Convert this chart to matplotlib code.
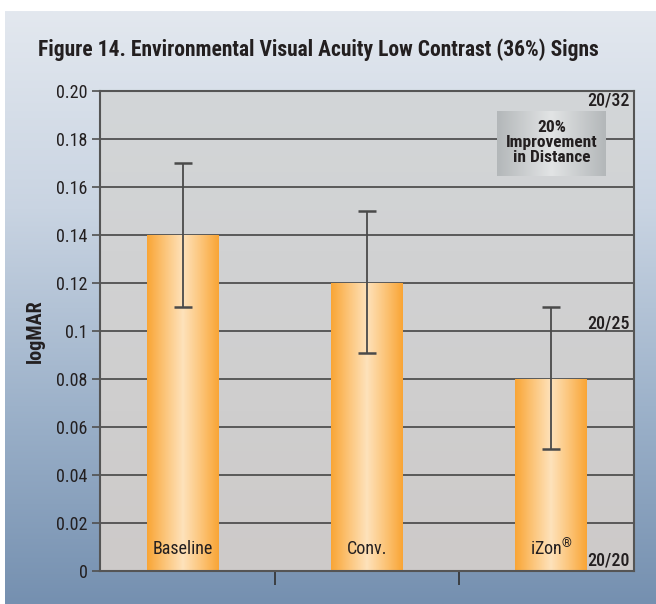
import numpy as np
import matplotlib
matplotlib.use("Agg")
import matplotlib.pyplot as plt
from matplotlib.colors import LinearSegmentedColormap

plt.rcParams['font.family'] = ['Roboto Condensed', 'DejaVu Sans']
plt.rcParams['mathtext.fontset'] = 'custom'
plt.rcParams['mathtext.rm'] = 'Roboto Condensed'

# ---- data ----
categories = ["Baseline", "Conv.", "iZon\u00ae"]
values = [0.14, 0.12, 0.08]
err_low = [0.11, 0.091, 0.051]
err_high = [0.17, 0.15, 0.11]
ytick_vals = [0, 0.02, 0.04, 0.06, 0.08, 0.10, 0.12, 0.14, 0.16, 0.18, 0.20]
ytick_labels = ["0", "0.02", "0.04", "0.06", "0.08", "0.1", "0.12", "0.14", "0.16", "0.18", "0.20"]
acuity_labels = ["20/32", "20/25", "20/20"]
acuity_vals = [0.196, 0.1033, 0.0045]
title = "Figure 14. Environmental Visual Acuity Low Contrast (36%) Signs"
box_text = "20%\nImprovement\nin Distance"

W, H = 656, 604
fig = plt.figure(figsize=(W / 100, H / 100), dpi=100)
fig.patch.set_facecolor("white")

# figure background gradient
bg = fig.add_axes([0, 0, 1, 1], zorder=-10)
bg.set_axis_off()
bg.set_xlim(0, 1)
bg.set_ylim(0, 1)
bgcmap = LinearSegmentedColormap.from_list("bg", ["#7590b0", "#9db2ca", "#c9d4e2", "#e3e8ef"])
grad = np.linspace(0, 1, 256).reshape(-1, 1)
bg.imshow(grad, cmap=bgcmap, origin="lower", aspect="auto",
          extent=[5 / W, 1, 0, 1 - 11 / H])

# main axes
ax = fig.add_axes([100 / W, 1 - 571 / H, 534 / W, 480 / H])
ax.set_facecolor("#cfd0d1")
pcmap = LinearSegmentedColormap.from_list("pa", ["#cdcac9", "#d3d6d8"])
ax.imshow(grad, cmap=pcmap, origin="lower", aspect="auto",
          extent=[0, 1, 0, 1], transform=ax.transAxes, zorder=0)

ax.set_axisbelow(True)
ax.yaxis.grid(True, color="#505050", lw=1.3)
ax.xaxis.grid(False)

x = np.arange(len(categories))
bars = ax.bar(x, values, width=0.39, color="#f9a73a", zorder=1)

barcmap = LinearSegmentedColormap.from_list("bar", ["#f9a535", "#fcc57a", "#fee2bb", "#fcc57a", "#f9a535"])
hgrad = np.linspace(0, 1, 256).reshape(1, -1)
for b in bars:
    im = ax.imshow(hgrad, cmap=barcmap, aspect="auto",
                   extent=[b.get_x(), b.get_x() + b.get_width(), 0, b.get_height()],
                   zorder=1.5)
    im.set_clip_path(b)

yerr = np.array([np.array(values) - np.array(err_low), np.array(err_high) - np.array(values)])
ax.errorbar(x, values, yerr=yerr, fmt="none", ecolor="#4a4a4a", elinewidth=1.3,
            capsize=6.8, capthick=1.8, zorder=3)

ax.set_xlim(-0.45, 2.45)
ax.set_ylim(0, 0.2)

# category labels inside bars (registered sign drawn as small superscript)
for xi, c in zip(x, categories):
    lab = c.replace("\u00ae", "$^{\\mathrm{\u00ae}}$")
    ax.text(xi, 0.009, lab, ha="center", va="center", fontsize=13, color="#231f20", zorder=4)

# ticks
ax.set_yticks(ytick_vals)
ax.set_yticklabels(ytick_labels, fontsize=13, color="#231f20")
ax.tick_params(axis="y", length=6, width=1.2, color="#505050", pad=3)
ax.set_xticks(x[:-1] + 0.5)
ax.set_xticklabels([])
ax.tick_params(axis="x", length=10, width=1.2, color="#303030", direction="out")

for s in ax.spines.values():
    s.set_color("#555555")
    s.set_linewidth(1.5)

ax.set_ylabel("logMAR", fontsize=14.5, fontweight="bold", color="#231f20")
ax.yaxis.set_label_coords(-0.103, 0.5)

# acuity labels
for lab, v in zip(acuity_labels, acuity_vals):
    ax.text(0.9925, v, lab, transform=ax.get_yaxis_transform(), ha="right", va="center",
            fontsize=13, fontweight="medium", color="#231f20", zorder=4)

# improvement box
bx0, bx1 = (497 - 100) / 534, (606 - 100) / 534
by0, by1 = (571 - 176) / 480, (571 - 111) / 480
boxcmap = LinearSegmentedColormap.from_list("box", ["#b3b7b9", "#e2e4e5", "#b3b7b9"])
ax.imshow(hgrad, cmap=boxcmap, aspect="auto", extent=[bx0, bx1, by0, by1],
          transform=ax.transAxes, zorder=5)
ax.text((bx0 + bx1) / 2, (by0 + by1) / 2 + 0.003, box_text, transform=ax.transAxes,
        ha="center", va="center", fontsize=12.5, fontweight="bold", color="#231f20",
        linespacing=1.0, zorder=6)
ax.set_xlim(-0.45, 2.45)
ax.set_ylim(0, 0.2)

fig.text(38 / W, 1 - 50 / H, title, ha="left", va="center", fontsize=15.5,
         fontweight="bold", color="#231f20")

fig.savefig("out.png", dpi=100)
